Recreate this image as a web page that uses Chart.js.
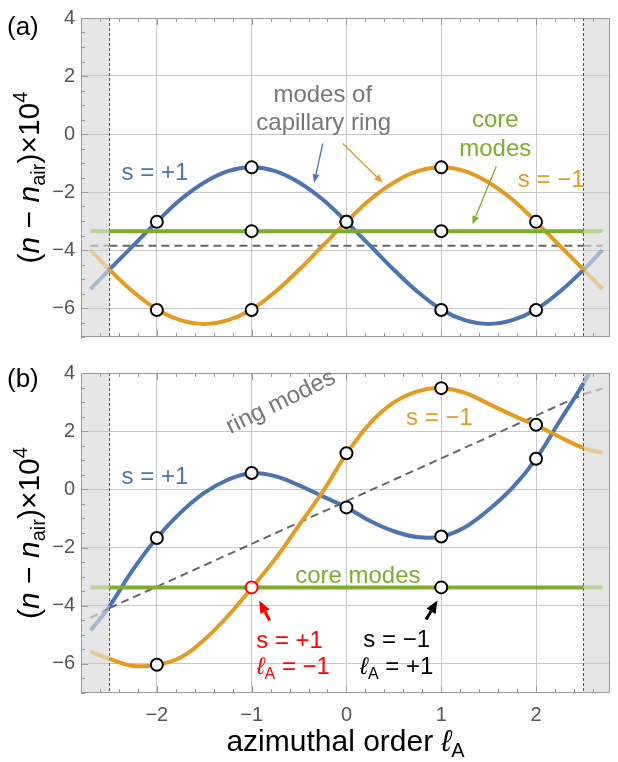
<!DOCTYPE html>
<html>
<head>
<meta charset="utf-8">
<script src="https://cdn.jsdelivr.net/npm/chart.js@4/dist/chart.umd.min.js"></script>
<style>
  body { margin: 0; background: #fff; overflow: hidden; }
  #wrap { position: relative; width: 618px; height: 762px; }
  canvas { position: absolute; left: 0; }
</style>
</head>
<body>
<div id="wrap">
  <canvas id="chartA" width="618" height="355" style="top:0"></canvas>
  <canvas id="chartB" width="618" height="407" style="top:355px"></canvas>
</div>
<script>
// azimuthal order samples
const ell = [-2.7, -2.5, -2.25, -2, -1.75, -1.5, -1.25, -1, -0.75, -0.5, -0.25, 0,
             0.25, 0.5, 0.75, 1, 1.25, 1.5, 1.75, 2, 2.25, 2.5, 2.7];

// panel (a)
const blueA   = [-5.35, -4.68, -3.85, -3.03, -2.26, -1.67, -1.28, -1.15, -1.28, -1.67, -2.26, -3.03,
                 -3.85, -4.68, -5.44, -6.05, -6.42, -6.55, -6.42, -6.05, -5.44, -4.68, -4.0];
const orangeA = [-4.0, -4.68, -5.44, -6.05, -6.42, -6.55, -6.42, -6.05, -5.44, -4.68, -3.85, -3.03,
                 -2.26, -1.67, -1.28, -1.15, -1.28, -1.67, -2.26, -3.03, -3.85, -4.68, -5.35];

// panel (b)
const blueB   = [-4.85, -4.02, -2.75, -1.67, -0.8, -0.12, 0.33, 0.56, 0.45, 0.14, -0.24, -0.62,
                 -1.09, -1.44, -1.64, -1.62, -1.3, -0.7, 0.05, 1.05, 2.35, 3.65, 4.9];
const orangeB = [-5.58, -5.83, -6.07, -6.03, -5.78, -5.17, -4.35, -3.39, -2.38, -1.23, -0.08, 1.22,
                 2.28, 2.99, 3.37, 3.48, 3.32, 2.94, 2.55, 2.2, 1.8, 1.42, 1.26];

// straight lines: core modes and ring modes
const lineX = [-2.7, -2.5, 2.5, 2.7];
const coreA = [-3.35, -3.35, -3.35, -3.35];
const ringA = [-3.85, -3.85, -3.85, -3.85];
const coreB = [-3.37, -3.37, -3.37, -3.37];
const ringB = [-4.42, -4.08, 3.27, 3.47];

// mode markers
const modeX = [-2, -1, 0, 1, 2];
const blueModesA   = [-3.03, -1.15, -3.03, -6.07, -6.07];
const orangeModesA = [-6.07, -6.07, -3.03, -1.15, -3.03];
const coreModeXA = [-1, 1];
const coreModesA = [-3.35, -3.35];
const blueModesB = [-1.67, 0.56, -0.62, -1.62, 1.05];
const orangeModeXB = [-2, 0, 1, 2];
const orangeModesB = [-6.03, 1.24, 3.48, 2.22];
const redModeX = [-1];
const redModes = [-3.37];
const coreModeXB = [1];
const coreModesB = [-3.37];

const xTicks = [-2, -1, 0, 1, 2];
const yTicks = [-6, -4, -2, 0, 2, 4];

const FONT = "'Liberation Sans', Arial, sans-serif";
const BLUE = '#4b74b3', ORANGE = '#e69b1f', GREEN = '#7dae2b', RED = '#ff0000';
const fade = c => c + '66';
const EDGE = 2.5;

function pts(xs, ys) { return xs.map((x, i) => ({ x: x, y: ys[i] })); }

function curve(xs, ys, color, order, extra) {
  return Object.assign({
    data: pts(xs, ys),
    borderColor: color,
    borderWidth: 4,
    pointRadius: 0,
    fill: false,
    tension: 0.4,
    clip: 0,
    order: order,
    segment: {
      borderColor: c => (c.p0.parsed.x < -EDGE - 1e-9 || c.p1.parsed.x > EDGE + 1e-9) ? fade(color) : undefined
    }
  }, extra || {});
}

function markers(xs, ys, border) {
  return {
    data: pts(xs, ys),
    showLine: false,
    pointRadius: 6,
    pointBackgroundColor: '#fff',
    pointBorderColor: border,
    pointBorderWidth: 2,
    order: 0
  };
}

function fmt(v) { return v < 0 ? '\u2212' + Math.abs(v) : String(v); }

function drawRich(ctx, runs, x, y, size, color, rot) {
  ctx.save();
  ctx.translate(x, y);
  ctx.rotate((rot || 0) * Math.PI / 180);
  ctx.fillStyle = color;
  ctx.textBaseline = 'alphabetic';
  const fonts = runs.map(r => (r.it ? 'italic ' : '') + ((r.sub || r.sup) ? Math.round(size * 0.68) : size) + 'px ' + FONT);
  let total = 0;
  const widths = runs.map((r, i) => { ctx.font = fonts[i]; const w = ctx.measureText(r.t).width; total += w; return w; });
  let cx = -total / 2;
  runs.forEach((r, i) => {
    ctx.font = fonts[i];
    const dy = r.sub ? size * 0.22 : r.sup ? -size * 0.4 : 0;
    ctx.fillText(r.t, cx, size * 0.35 + dy);
    cx += widths[i];
  });
  ctx.restore();
}

function arrow(ctx, x0, y0, x1, y1, color, w) {
  const ang = Math.atan2(y1 - y0, x1 - x0);
  const hl = 5 + w * 2.5, hw = hl * 0.42;
  const bx = x1 - hl * Math.cos(ang), by = y1 - hl * Math.sin(ang);
  ctx.save();
  ctx.strokeStyle = color; ctx.fillStyle = color; ctx.lineWidth = w;
  ctx.beginPath(); ctx.moveTo(x0, y0); ctx.lineTo(bx, by); ctx.stroke();
  ctx.beginPath();
  ctx.moveTo(x1, y1);
  ctx.lineTo(bx + hw * Math.sin(ang), by - hw * Math.cos(ang));
  ctx.lineTo(bx - hw * Math.sin(ang), by + hw * Math.cos(ang));
  ctx.closePath(); ctx.fill();
  ctx.restore();
}

const yTitle = [{ t: '(' }, { t: 'n', it: 1 }, { t: ' \u2212 ' }, { t: 'n', it: 1 }, { t: 'air', sub: 1 }, { t: ')\u00d710' }, { t: '4', sup: 1 }];
const xTitle = [{ t: 'azimuthal order ' }, { t: '\u2113', it: 1 }, { t: 'A', sub: 1 }];

const panelPlugin = {
  id: 'panel',
  beforeDraw(chart) {
    const { ctx, chartArea: a, scales: { x } } = chart;
    const xl = x.getPixelForValue(-EDGE), xr = x.getPixelForValue(EDGE);
    ctx.save();
    ctx.fillStyle = '#e6e6e6';
    ctx.fillRect(a.left, a.top, xl - a.left, a.bottom - a.top);
    ctx.fillRect(xr, a.top, a.right - xr, a.bottom - a.top);
    ctx.restore();
  },
  beforeDatasetsDraw(chart) {
    const { ctx, chartArea: a, scales: { x } } = chart;
    ctx.save();
    ctx.strokeStyle = '#555'; ctx.lineWidth = 1; ctx.setLineDash([3, 2]);
    [-EDGE, EDGE].forEach(v => {
      const px = Math.round(x.getPixelForValue(v)) + 0.5;
      ctx.beginPath(); ctx.moveTo(px, a.top); ctx.lineTo(px, a.bottom); ctx.stroke();
    });
    ctx.restore();
  },
  afterDraw(chart, args, opts) {
    const { ctx, chartArea: a, scales: { x, y } } = chart;
    ctx.save();
    // frame + minor ticks
    ctx.strokeStyle = '#999'; ctx.lineWidth = 1;
    ctx.strokeRect(a.left + 0.5, a.top + 0.5, a.right - a.left - 1, a.bottom - a.top - 1);
    ctx.beginPath();
    for (let k = -14; k <= 13; k++) {
      const px = Math.round(x.getPixelForValue(k * 0.2)) + 0.5;
      const len = k % 5 === 0 ? 7 : 4;
      ctx.moveTo(px, a.bottom); ctx.lineTo(px, a.bottom - len);
      ctx.moveTo(px, a.top); ctx.lineTo(px, a.top + len);
    }
    for (let k = -14; k <= 8; k++) {
      const py = Math.round(y.getPixelForValue(k * 0.5)) + 0.5;
      const len = k % 4 === 0 ? 7 : 4;
      ctx.moveTo(a.left, py); ctx.lineTo(a.left + len, py);
    }
    ctx.stroke();
    ctx.restore();

    // annotations
    opts.notes.forEach(n => {
      if (n.arrow) {
        const [x0, y0, x1, y1] = n.arrow;
        arrow(ctx, x.getPixelForValue(x0), y.getPixelForValue(y0), x.getPixelForValue(x1), y.getPixelForValue(y1), n.color, n.w);
      } else {
        drawRich(ctx, n.runs || [{ t: n.text }], x.getPixelForValue(n.x), y.getPixelForValue(n.y), 24, n.color, n.rot);
      }
    });

    // axis titles and panel label
    drawRich(ctx, yTitle, 28, (a.top + a.bottom) / 2, 30, '#000', -90);
    if (opts.xTitle) drawRich(ctx, xTitle, (a.left + a.right) / 2, chart.height - 22, 30, '#000', 0);
    ctx.save();
    ctx.fillStyle = '#000'; ctx.font = '26px ' + FONT; ctx.textBaseline = 'middle';
    ctx.fillText(opts.label, 7, opts.labelY);
    ctx.restore();
  }
};

function makePanel(id, datasets, o) {
  return new Chart(document.getElementById(id), {
    type: 'line',
    data: { datasets: datasets },
    options: {
      responsive: false,
      animation: false,
      devicePixelRatio: 1,
      layout: { padding: { top: o.padTop, left: 0, right: 0, bottom: 0 } },
      plugins: {
        legend: { display: false },
        tooltip: { enabled: false },
        panel: { notes: o.notes, label: o.label, labelY: o.labelY, xTitle: o.showX }
      },
      scales: {
        x: {
          type: 'linear', min: -2.8, max: 2.78,
          afterBuildTicks: s => { s.ticks = xTicks.map(v => ({ value: v })); },
          afterFit: s => { s.height = o.xH; },
          grid: { color: '#c8c8c8', drawTicks: false },
          border: { display: false },
          ticks: { display: o.showX, padding: 10, color: '#555', font: { family: FONT, size: 20 }, callback: fmt }
        },
        y: {
          type: 'linear', min: -7, max: 4,
          afterBuildTicks: s => { s.ticks = yTicks.map(v => ({ value: v })); },
          afterFit: s => { s.width = 81; },
          grid: { color: '#c8c8c8', drawTicks: false },
          border: { display: false },
          ticks: { padding: 6, color: '#555', font: { family: FONT, size: 20 }, callback: fmt }
        }
      }
    },
    plugins: [panelPlugin]
  });
}

const GRAY_T = '#777';

makePanel('chartA', [
  markers(modeX, blueModesA, '#000'),
  markers(modeX, orangeModesA, '#000'),
  markers(coreModeXA, coreModesA, '#000'),
  curve(lineX, coreA, GREEN, 1),
  curve(ell, orangeA, ORANGE, 2),
  curve(ell, blueA, BLUE, 3),
  curve(lineX, ringA, '#666666', 4, { borderWidth: 2, borderDash: [8, 5], tension: 0 })
], {
  padTop: 16, xH: 4, showX: false, label: '(a)', labelY: 28,
  notes: [
    { text: 'modes of', x: -0.25, y: 1.41, color: GRAY_T },
    { text: 'capillary ring', x: -0.24, y: 0.43, color: GRAY_T },
    { arrow: [-0.25, -0.33, -0.34, -1.67], color: BLUE, w: 1.3 },
    { arrow: [-0.04, -0.33, 0.38, -1.67], color: ORANGE, w: 1.3 },
    { text: 'core', x: 1.57, y: 0.52, color: GREEN },
    { text: 'modes', x: 1.57, y: -0.46, color: GREEN },
    { arrow: [1.58, -1.11, 1.33, -3.11], color: GREEN, w: 1.3 },
    { text: 's = \u22121', x: 2.16, y: -1.54, color: ORANGE },
    { text: 's = +1', x: -2.02, y: -1.28, color: BLUE }
  ]
});

makePanel('chartB', [
  markers(modeX, blueModesB, '#000'),
  markers(orangeModeXB, orangeModesB, '#000'),
  markers(coreModeXB, coreModesB, '#000'),
  markers(redModeX, redModes, RED),
  curve(lineX, coreB, GREEN, 1),
  curve(ell, orangeB, ORANGE, 2),
  curve(ell, blueB, BLUE, 3),
  curve(lineX, ringB, '#666666', 4, { borderWidth: 2, borderDash: [8, 5], tension: 0 })
], {
  padTop: 4, xH: 69, showX: true, label: '(b)', labelY: 25,
  notes: [
    { text: 'ring modes', x: -0.7, y: 3.05, color: GRAY_T, rot: -26 },
    { text: 's = +1', x: -2.02, y: 0.46, color: BLUE },
    { text: 's = \u22121', x: 0.98, y: 2.5, color: ORANGE },
    { text: 'core modes', x: 0.12, y: -2.93, color: GREEN },
    { arrow: [-0.81, -4.51, -0.92, -3.82], color: RED, w: 3 },
    { text: 's = +1', x: -0.6, y: -5.16, color: RED },
    { runs: [{ t: '\u2113', it: 1 }, { t: 'A', sub: 1 }, { t: ' = \u22121' }], x: -0.56, y: -6.05, color: RED },
    { arrow: [0.84, -4.47, 0.96, -3.82], color: '#000', w: 3 },
    { text: 's = \u22121', x: 0.53, y: -5.13, color: '#000' },
    { runs: [{ t: '\u2113', it: 1 }, { t: 'A', sub: 1 }, { t: ' = +1' }], x: 0.53, y: -6.05, color: '#000' }
  ]
});
</script>
</body>
</html>
